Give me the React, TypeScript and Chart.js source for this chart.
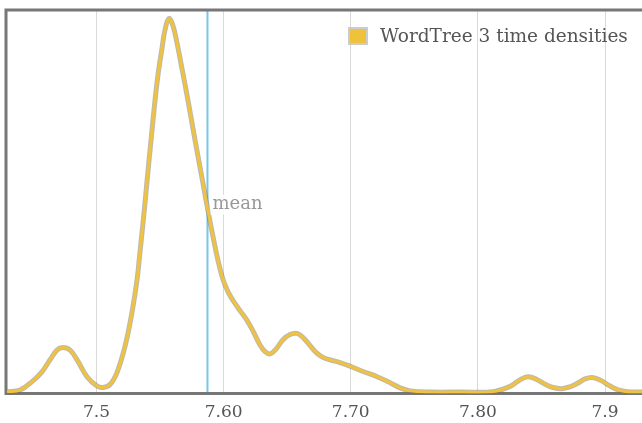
import React, { useEffect, useRef } from "react";
import { Chart, registerables } from "chart.js";

Chart.register(...registerables);

// Density curve (x = time value, y = relative density)
const densityX = [
  7.4296, 7.4398, 7.45, 7.4571, 7.4634, 7.4689, 7.4736, 7.4792, 7.4847, 7.4925,
  7.5004, 7.5051, 7.5106, 7.5161, 7.5224, 7.5279, 7.5319, 7.5342, 7.5374, 7.5397,
  7.5429, 7.546, 7.5484, 7.5515, 7.5539, 7.557, 7.5602, 7.5633, 7.5673, 7.572,
  7.5759, 7.5799, 7.5838, 7.5877, 7.5917, 7.5956, 7.5995, 7.6035, 7.6074, 7.6129,
  7.6184, 7.6239, 7.6286, 7.6326, 7.6365, 7.6412, 7.6467, 7.6522, 7.6577, 7.6633,
  7.668, 7.6727, 7.6774, 7.6837, 7.6916, 7.701, 7.7097, 7.7207, 7.7309, 7.7388,
  7.7467, 7.7624, 7.786, 7.812, 7.8253, 7.8324, 7.8395, 7.8466, 7.8529, 7.8592,
  7.8662, 7.8725, 7.8788, 7.8843, 7.8898, 7.8961, 7.904, 7.9103, 7.9174, 7.9292,
];
const densityY = [
  0.1, 0.5, 3.0, 5.4, 8.6, 11.2, 11.9, 11.2, 8.6, 4.1,
  1.6, 1.2, 2.0, 5.2, 12.2, 21.3, 30.1, 37.5, 48.0, 56.3,
  67.5, 78.0, 85.0, 92.0, 97.0, 100, 98.0, 93.5, 86.5, 78.0,
  70.5, 63.0, 55.8, 48.5, 41.5, 35.2, 30.1, 26.8, 24.5, 21.8,
  19.2, 15.8, 12.6, 10.8, 10.2, 11.5, 14.0, 15.4, 15.7, 14.3,
  12.4, 10.6, 9.4, 8.6, 7.9, 6.7, 5.5, 4.1, 2.5, 1.1,
  0.3, 0.0, 0.0, 0.1, 1.5, 3.1, 4.1, 3.3, 2.1, 1.2,
  0.9, 1.4, 2.4, 3.5, 3.9, 3.2, 1.6, 0.6, 0.1, 0.0,
];
const meanValue = 7.5873;
const tickValues = [7.5, 7.6, 7.7, 7.8, 7.9];
const tickLabels = ["7.5", "7.60", "7.70", "7.80", "7.9"];
const seriesLabel = "WordTree 3 time densities";
const meanLabel = "mean";

const FONT = "'DejaVu Serif', serif";

export default function App() {
  const ref = useRef<HTMLCanvasElement>(null);

  useEffect(() => {
    document.body.style.margin = "0";
    const canvas = ref.current;
    if (!canvas) return;
    const points = densityX.map((x, i) => ({ x, y: densityY[i] }));

    const decor = {
      id: "decor",
      beforeDatasetsDraw(chart: any) {
        const { ctx, chartArea } = chart;
        const { left, top, right, bottom } = chartArea;
        const xs = chart.scales.x;
        ctx.save();
        // mean line
        const mx = xs.getPixelForValue(meanValue);
        ctx.strokeStyle = "#74c6ea";
        ctx.lineWidth = 2;
        ctx.beginPath();
        ctx.moveTo(mx, top);
        ctx.lineTo(mx, bottom);
        ctx.stroke();
        // frame
        ctx.strokeStyle = "#777777";
        ctx.lineWidth = 3;
        ctx.beginPath();
        ctx.moveTo(right + 3, top);
        ctx.lineTo(left, top);
        ctx.lineTo(left, bottom);
        ctx.lineTo(right + 3, bottom);
        ctx.stroke();
        ctx.restore();
      },
      afterDatasetsDraw(chart: any) {
        const { ctx } = chart;
        const xs = chart.scales.x;
        const ys = chart.scales.y;
        ctx.save();
        // mean label
        const mx = xs.getPixelForValue(meanValue);
        ctx.font = `18px ${FONT}`;
        const my = ys.getPixelForValue(50.2);
        const w = ctx.measureText(meanLabel).width;
        ctx.fillStyle = "rgba(255,255,255,0.85)";
        ctx.fillRect(mx + 3, my - 10, w + 4, 20);
        ctx.fillStyle = "#999999";
        ctx.textBaseline = "middle";
        ctx.textAlign = "left";
        ctx.fillText(meanLabel, mx + 5, my);
        // legend
        ctx.fillStyle = "#efc23c";
        ctx.fillRect(349, 28, 18, 16);
        ctx.strokeStyle = "#cccccc";
        ctx.lineWidth = 2;
        ctx.strokeRect(349, 28, 18, 16);
        ctx.font = `18.5px ${FONT}`;
        ctx.fillStyle = "#555555";
        ctx.fillText(seriesLabel, 380, 37);
        ctx.restore();
      },
    };

    const chart = new Chart(canvas, {
      type: "line",
      data: {
        datasets: [
          {
            label: seriesLabel,
            data: points,
            borderColor: "#efc23f",
            borderWidth: 3,
            pointRadius: 0,
            tension: 0.4,
            fill: false,
          },
          {
            label: "outline",
            data: points,
            borderColor: "rgba(125,115,95,0.5)",
            borderWidth: 5,
            pointRadius: 0,
            tension: 0.4,
            fill: false,
          },
        ],
      },
      options: {
        animation: false,
        responsive: false,
        layout: { padding: { left: 6, top: 10, right: 0, bottom: 0 } },
        plugins: { legend: { display: false }, tooltip: { enabled: false } },
        scales: {
          x: {
            type: "linear",
            min: 7.4288,
            max: 7.9291,
            afterBuildTicks: (scale: any) => {
              scale.ticks = tickValues.map((v) => ({ value: v }));
            },
            afterFit: (scale: any) => {
              scale.height = 29.5;
            },
            ticks: {
              autoSkip: false,
              maxRotation: 0,
              padding: 9,
              color: "#555555",
              font: { family: FONT, size: 17 },
              callback: (_v: any, i: number) => tickLabels[i],
            },
            grid: { color: "#d9d9d9", lineWidth: 1, drawTicks: false },
            border: { display: false },
          },
          y: {
            display: false,
            min: -0.4,
            max: 102.3,
          },
        },
      },
      plugins: [decor],
    });

    return () => chart.destroy();
  }, []);

  return (
    <div style={{ width: 642, height: 423 }}>
      <canvas ref={ref} width={642} height={423} />
    </div>
  );
}
